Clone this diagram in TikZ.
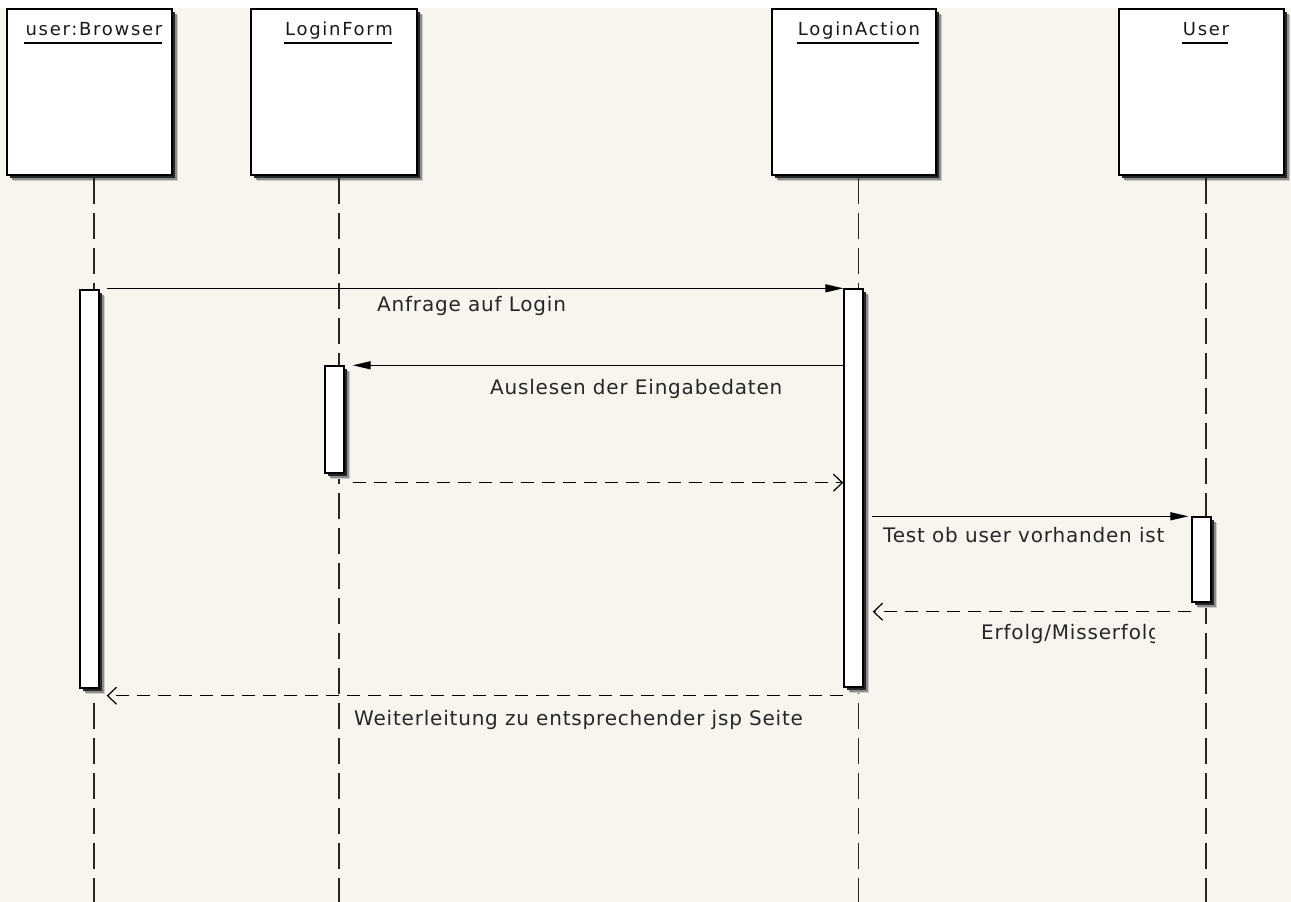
\documentclass[tikz,border=0pt]{standalone}
\usepackage{fontspec}
\newfontfamily\uifont{DejaVu Sans}[LetterSpace=4.0]
\newfontfamily\ttlfont{DejaVu Sans}[LetterSpace=9.5]
\usetikzlibrary{arrows.meta,calc}
\definecolor{bg}{RGB}{248,245,238}
\begin{document}
\begin{tikzpicture}[x=1pt,y=-1pt,
  objbox/.style={draw=black, line width=1.6pt, fill=white, inner sep=0pt, minimum height=166pt,
    preaction={fill=black!20, transform canvas={shift={(6pt,-6pt)}}},
    preaction={fill=black!45, transform canvas={shift={(4.5pt,-4.5pt)}}},
    preaction={fill=black!85, transform canvas={shift={(3pt,-3pt)}}}},
  actbar/.style={draw=black, line width=1.4pt, fill=white, inner sep=0pt, minimum width=19pt,
    preaction={fill=black!20, transform canvas={shift={(6pt,-6pt)}}},
    preaction={fill=black!45, transform canvas={shift={(4.5pt,-4.5pt)}}},
    preaction={fill=black!85, transform canvas={shift={(3pt,-3pt)}}}},
  objtitle/.style={font=\ttlfont\fontsize{18}{20}\selectfont, inner sep=0pt, text depth=0pt, anchor=south, text=black!90},
  lbl/.style={font=\uifont\fontsize{20}{22}\selectfont, inner sep=0pt, text depth=0pt, anchor=south west, text=black!85},
  life/.style={draw=black!85, line width=1.4pt, dash pattern=on 26pt off 9pt},
  sync/.style={draw=black, line width=1.3pt, -{Triangle[length=18pt,width=8pt]}},
  ret/.style={draw=black, line width=1.3pt, dash pattern=on 13pt off 8pt, -{Straight Barb[length=9pt,width=17pt,line width=1.2pt]}}
]
\useasboundingbox (0,0) rectangle (1291,902);
\fill[bg] (0,0) rectangle (1291,902);
\fill[white] (0,0) rectangle (1291,8);

% object boxes
\node[objbox, minimum width=165pt] (browser) at (89.5,92) {};
\node[objbox, minimum width=166pt] (form) at (334,92) {};
\node[objbox, minimum width=164pt] (action) at (854,92) {};
\node[objbox, minimum width=165pt] (user) at (1201.5,92) {};

% titles
\node[objtitle] (tB) at (94,36) {user:Browser};
\node[objtitle] (tF) at (339,36) {LoginForm};
\node[objtitle] (tA) at (859,36) {LoginAction};
\node[objtitle] (tU) at (1206,36) {User};
\foreach \t in {tB,tF,tA,tU}
  \draw[line width=1.4pt] ([xshift=-1pt,yshift=-7pt]\t.south west) -- ([xshift=-1pt,yshift=-7pt]\t.south east);

% lifelines
\coordinate (endB) at (94,902);
\coordinate (endF) at (339,902);
\coordinate (endA) at (858.5,902);
\coordinate (endU) at (1206,902);
\draw[life] ([xshift=4.5pt,yshift=-2pt]browser.south) -- (endB);
\draw[life] ([xshift=5pt,yshift=-2pt]form.south) -- (endF);
\draw[life] ([xshift=4.5pt,yshift=-2pt]action.south) -- (endA);
\draw[life] ([xshift=4.5pt,yshift=-2pt]user.south) -- (endU);

% activation bars
\node[actbar, minimum height=398pt] (bB) at (89.5,489) {};
\node[actbar, minimum height=107pt] (bF) at (334.5,419.5) {};
\node[actbar, minimum height=398pt] (bA) at (853.5,488) {};
\node[actbar, minimum height=85pt] (bU) at (1201.5,559.5) {};

% messages
\draw[sync] ($(bB.east |- bA.north)+(7,0)$) -- (bA.north west);
\draw[sync] (bA.west |- bF.north) -- ($(bF.north east)+(8,0)$);
\draw[ret] ($(bF.south east)+(8,9)$) -- ($(bA.west |- bF.south)+(0,9)$);
\draw[sync] ($(bA.east |- bU.north)+(8,0)$) -- ($(bU.north west)+(-3,0)$);
\draw[ret] ($(bU.south west)+(0,9)$) -- ($(bA.east |- bU.south)+(9,9)$);
\draw[ret] ($(bA.south west)+(0,8)$) -- ($(bB.south east)+(7,7)$);

% labels
\node[lbl] (l1) at (377,312) {Anfrage auf Login};
\node[lbl] (l2) at (490,395) {Auslesen der Eingabedaten};
\node[lbl] (l3) at (883,543) {Test ob user vorhanden ist};
\begin{scope}
  \clip (960,610) rectangle (1154,660);
  \node[lbl] (l4) at (981,640) {Erfolg/Misserfolg};
\end{scope}
\node[lbl] (l5) at (354,726) {Weiterleitung zu entsprechender jsp Seite};
\end{tikzpicture}
\end{document}
